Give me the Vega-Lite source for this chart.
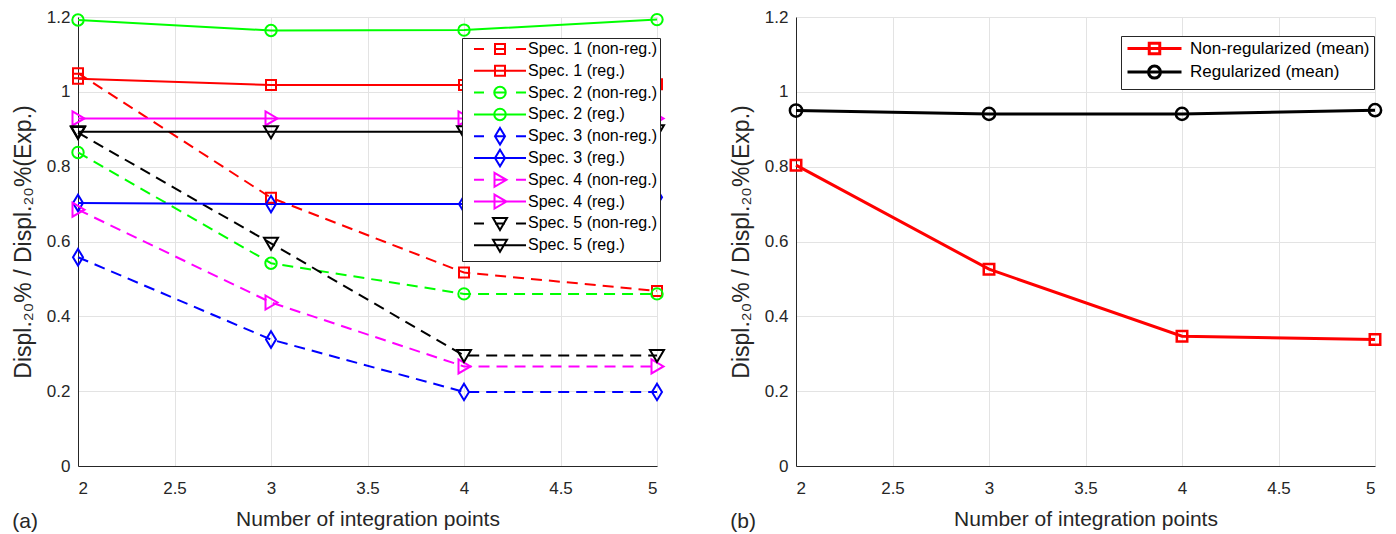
{
  "$schema": "https://vega.github.io/schema/vega-lite/v6.json",
  "background": "white",
  "padding": {"left": 12, "top": 8, "right": 5, "bottom": 0},
  "spacing": 62,
  "resolve": {"scale": {"color": "independent", "shape": "independent"}, "legend": {"color": "independent", "shape": "independent"}},
  "config": {
    "view": {"stroke": null},
    "font": "Liberation Sans",
    "axis": {
      "domainColor": "#262626", "domainWidth": 1,
      "gridColor": "#e3e3e3", "gridWidth": 1,
      "labelColor": "#262626", "labelFont": "Liberation Sans", "labelFontSize": 17,
      "titleColor": "#262626", "titleFont": "Liberation Sans", "titleFontSize": 21, "titleFontWeight": "normal",
      "ticks": false
    },
    "axisX": {"labelPadding": 14, "titlePadding": 12},
    "axisY": {"labelPadding": 8, "titlePadding": 11, "titleFontSize": 23}
  },
  "datasets": {
    "specs": [
      {"series": "Spec. 1 (non-reg.)", "points": 2, "ratio": 1.05},
      {"series": "Spec. 1 (non-reg.)", "points": 3, "ratio": 0.717},
      {"series": "Spec. 1 (non-reg.)", "points": 4, "ratio": 0.517},
      {"series": "Spec. 1 (non-reg.)", "points": 5, "ratio": 0.468},
      {"series": "Spec. 1 (reg.)", "points": 2, "ratio": 1.035},
      {"series": "Spec. 1 (reg.)", "points": 3, "ratio": 1.018},
      {"series": "Spec. 1 (reg.)", "points": 4, "ratio": 1.018},
      {"series": "Spec. 1 (reg.)", "points": 5, "ratio": 1.02},
      {"series": "Spec. 2 (non-reg.)", "points": 2, "ratio": 0.838},
      {"series": "Spec. 2 (non-reg.)", "points": 3, "ratio": 0.542},
      {"series": "Spec. 2 (non-reg.)", "points": 4, "ratio": 0.46},
      {"series": "Spec. 2 (non-reg.)", "points": 5, "ratio": 0.46},
      {"series": "Spec. 2 (reg.)", "points": 2, "ratio": 1.192},
      {"series": "Spec. 2 (reg.)", "points": 3, "ratio": 1.164},
      {"series": "Spec. 2 (reg.)", "points": 4, "ratio": 1.165},
      {"series": "Spec. 2 (reg.)", "points": 5, "ratio": 1.193},
      {"series": "Spec. 3 (non-reg.)", "points": 2, "ratio": 0.558},
      {"series": "Spec. 3 (non-reg.)", "points": 3, "ratio": 0.338},
      {"series": "Spec. 3 (non-reg.)", "points": 4, "ratio": 0.198},
      {"series": "Spec. 3 (non-reg.)", "points": 5, "ratio": 0.198},
      {"series": "Spec. 3 (reg.)", "points": 2, "ratio": 0.703},
      {"series": "Spec. 3 (reg.)", "points": 3, "ratio": 0.7},
      {"series": "Spec. 3 (reg.)", "points": 4, "ratio": 0.7},
      {"series": "Spec. 3 (reg.)", "points": 5, "ratio": 0.718},
      {"series": "Spec. 4 (non-reg.)", "points": 2, "ratio": 0.685},
      {"series": "Spec. 4 (non-reg.)", "points": 3, "ratio": 0.437},
      {"series": "Spec. 4 (non-reg.)", "points": 4, "ratio": 0.266},
      {"series": "Spec. 4 (non-reg.)", "points": 5, "ratio": 0.266},
      {"series": "Spec. 4 (reg.)", "points": 2, "ratio": 0.929},
      {"series": "Spec. 4 (reg.)", "points": 3, "ratio": 0.929},
      {"series": "Spec. 4 (reg.)", "points": 4, "ratio": 0.929},
      {"series": "Spec. 4 (reg.)", "points": 5, "ratio": 0.929},
      {"series": "Spec. 5 (non-reg.)", "points": 2, "ratio": 0.891},
      {"series": "Spec. 5 (non-reg.)", "points": 3, "ratio": 0.595},
      {"series": "Spec. 5 (non-reg.)", "points": 4, "ratio": 0.295},
      {"series": "Spec. 5 (non-reg.)", "points": 5, "ratio": 0.295},
      {"series": "Spec. 5 (reg.)", "points": 2, "ratio": 0.893},
      {"series": "Spec. 5 (reg.)", "points": 3, "ratio": 0.893},
      {"series": "Spec. 5 (reg.)", "points": 4, "ratio": 0.893},
      {"series": "Spec. 5 (reg.)", "points": 5, "ratio": 0.896}
    ],
    "means": [
      {"series": "Non-regularized (mean)", "points": 2, "ratio": 0.804},
      {"series": "Non-regularized (mean)", "points": 3, "ratio": 0.526},
      {"series": "Non-regularized (mean)", "points": 4, "ratio": 0.347},
      {"series": "Non-regularized (mean)", "points": 5, "ratio": 0.338},
      {"series": "Regularized (mean)", "points": 2, "ratio": 0.95},
      {"series": "Regularized (mean)", "points": 3, "ratio": 0.941},
      {"series": "Regularized (mean)", "points": 4, "ratio": 0.941},
      {"series": "Regularized (mean)", "points": 5, "ratio": 0.951}
    ]
  },
  "hconcat": [
    {
      "width": 579,
      "height": 449,
      "title": {"text": "(a)", "orient": "bottom", "anchor": "start", "frame": "bounds", "offset": -18, "fontSize": 21, "fontWeight": "normal", "font": "Liberation Sans", "color": "#262626"},
      "data": {"name": "specs"},
      "encoding": {
        "x": {"field": "points", "type": "quantitative", "scale": {"domain": [2, 5], "nice": false, "zero": false},
              "axis": {"title": "Number of integration points", "values": [2, 2.5, 3, 3.5, 4, 4.5, 5], "format": "~g"}},
        "y": {"field": "ratio", "type": "quantitative", "scale": {"domain": [0, 1.2], "nice": false},
              "axis": {"title": "Displ.₂₀% / Displ.₂₀%(Exp.)", "values": [0, 0.2, 0.4, 0.6, 0.8, 1, 1.2], "format": "~g"}},
        "color": {"field": "series", "type": "nominal",
          "scale": {"domain": ["Spec. 1 (non-reg.)", "Spec. 1 (reg.)", "Spec. 2 (non-reg.)", "Spec. 2 (reg.)", "Spec. 3 (non-reg.)", "Spec. 3 (reg.)", "Spec. 4 (non-reg.)", "Spec. 4 (reg.)", "Spec. 5 (non-reg.)", "Spec. 5 (reg.)"],
                    "range": ["#ff0000", "#ff0000", "#00ff00", "#00ff00", "#0000ff", "#0000ff", "#ff00ff", "#ff00ff", "#000000", "#000000"]},
          "legend": {"title": null, "orient": "none", "legendX": 384, "legendY": 21, "symbolOffset": 27, "labelOffset": 20, "rowPadding": -4.2, "padding": 3, "strokeColor": "#262626", "fillColor": "white", "labelFontSize": 16, "labelFont": "Liberation Sans", "labelColor": "#000000", "symbolSize": 100, "symbolStrokeWidth": 2, "labelLimit": 300}}
      },
      "layer": [
        {
          "transform": [{"filter": "indexof(datum.series, 'non-reg') >= 0"}],
          "mark": {"type": "line", "strokeWidth": 2, "strokeDash": [11, 7]}
        },
        {
          "transform": [{"filter": "indexof(datum.series, 'non-reg') < 0"}],
          "mark": {"type": "line", "strokeWidth": 2}
        },
        {
          "transform": [{"filter": "indexof(datum.series, 'Spec. 1 ') == 0"}],
          "mark": {"type": "point", "shape": "square", "size": 100, "filled": false, "strokeWidth": 2, "opacity": 1}
        },
        {
          "transform": [{"filter": "indexof(datum.series, 'Spec. 2 ') == 0"}],
          "mark": {"type": "point", "shape": "circle", "size": 130, "filled": false, "strokeWidth": 2, "opacity": 1}
        },
        {
          "transform": [{"filter": "indexof(datum.series, 'Spec. 3 ') == 0"}],
          "mark": {"type": "point", "shape": "M0,-1.65L1,0L0,1.65L-1,0Z", "size": 100, "filled": false, "strokeWidth": 2, "opacity": 1}
        },
        {
          "transform": [{"filter": "indexof(datum.series, 'Spec. 4 ') == 0"}],
          "mark": {"type": "point", "shape": "M-1.1,-1.4L1.3,0L-1.1,1.4Z", "size": 100, "filled": false, "strokeWidth": 2, "opacity": 1}
        },
        {
          "transform": [{"filter": "indexof(datum.series, 'Spec. 5 ') == 0"}],
          "mark": {"type": "point", "shape": "M-1.4,-1.1L1.4,-1.1L0,1.3Z", "size": 100, "filled": false, "strokeWidth": 2, "opacity": 1}
        },
        {
          "transform": [{"filter": "false"}],
          "mark": {"type": "point", "size": 100, "filled": false, "strokeWidth": 2, "opacity": 1},
          "encoding": {
            "shape": {"field": "series", "type": "nominal",
              "scale": {"domain": ["Spec. 1 (non-reg.)", "Spec. 1 (reg.)", "Spec. 2 (non-reg.)", "Spec. 2 (reg.)", "Spec. 3 (non-reg.)", "Spec. 3 (reg.)", "Spec. 4 (non-reg.)", "Spec. 4 (reg.)", "Spec. 5 (non-reg.)", "Spec. 5 (reg.)"],
                        "range": [
                          "M0,-1.75M0,1.75M-5.2,0H-3.2M-1,0H1M3.2,0H5.2M-1,-1H1V1H-1Z",
                          "M0,-1.75M0,1.75M-5.2,0H5.2M-1,-1H1V1H-1Z",
                          "M0,-1.75M0,1.75M-5.2,0H-3.2M-1,0H1M3.2,0H5.2M-1.15,0A1.15,1.15,0,1,0,1.15,0A1.15,1.15,0,1,0,-1.15,0Z",
                          "M0,-1.75M0,1.75M-5.2,0H5.2M-1.15,0A1.15,1.15,0,1,0,1.15,0A1.15,1.15,0,1,0,-1.15,0Z",
                          "M0,-1.75M0,1.75M-5.2,0H-3.2M-1,0H1M3.2,0H5.2M0,-1.65L1,0L0,1.65L-1,0Z",
                          "M0,-1.75M0,1.75M-5.2,0H5.2M0,-1.65L1,0L0,1.65L-1,0Z",
                          "M0,-1.75M0,1.75M-5.2,0H-3.2M-1,0H1M3.2,0H5.2M-1.1,-1.4L1.3,0L-1.1,1.4Z",
                          "M0,-1.75M0,1.75M-5.2,0H5.2M-1.1,-1.4L1.3,0L-1.1,1.4Z",
                          "M0,-1.75M0,1.75M-5.2,0H-3.2M-1,0H1M3.2,0H5.2M-1.4,-1.1L1.4,-1.1L0,1.3Z",
                          "M0,-1.75M0,1.75M-5.2,0H5.2M-1.4,-1.1L1.4,-1.1L0,1.3Z"
                        ]},
              "legend": {"title": null, "orient": "none", "legendX": 384, "legendY": 21, "symbolOffset": 27, "labelOffset": 20, "rowPadding": -4.2, "padding": 3, "strokeColor": "#262626", "fillColor": "white", "labelFontSize": 16, "labelFont": "Liberation Sans", "labelColor": "#000000", "symbolSize": 100, "symbolStrokeWidth": 2, "labelLimit": 300}}
          }
        }
      ]
    },
    {
      "width": 579,
      "height": 449,
      "title": {"text": "(b)", "orient": "bottom", "anchor": "start", "frame": "bounds", "offset": -18, "fontSize": 21, "fontWeight": "normal", "font": "Liberation Sans", "color": "#262626"},
      "data": {"name": "means"},
      "encoding": {
        "x": {"field": "points", "type": "quantitative", "scale": {"domain": [2, 5], "nice": false, "zero": false},
              "axis": {"title": "Number of integration points", "values": [2, 2.5, 3, 3.5, 4, 4.5, 5], "format": "~g"}},
        "y": {"field": "ratio", "type": "quantitative", "scale": {"domain": [0, 1.2], "nice": false},
              "axis": {"title": "Displ.₂₀% / Displ.₂₀%(Exp.)", "values": [0, 0.2, 0.4, 0.6, 0.8, 1, 1.2], "format": "~g"}},
        "color": {"field": "series", "type": "nominal",
          "scale": {"domain": ["Non-regularized (mean)", "Regularized (mean)"], "range": ["#ff0000", "#000000"]},
          "legend": {"title": null, "orient": "none", "legendX": 325, "legendY": 19, "symbolOffset": 21, "labelOffset": 27, "rowPadding": -1.4, "padding": 4, "strokeColor": "#262626", "fillColor": "white", "labelFontSize": 17, "labelFont": "Liberation Sans", "labelColor": "#000000", "symbolSize": 100, "symbolStrokeWidth": 3, "labelLimit": 300}}
      },
      "layer": [
        {
          "mark": {"type": "line", "strokeWidth": 3}
        },
        {
          "transform": [{"filter": "datum.series == 'Non-regularized (mean)'"}],
          "mark": {"type": "point", "shape": "square", "size": 110, "filled": false, "strokeWidth": 2.5, "opacity": 1}
        },
        {
          "transform": [{"filter": "datum.series == 'Regularized (mean)'"}],
          "mark": {"type": "point", "shape": "circle", "size": 150, "filled": false, "strokeWidth": 2.5, "opacity": 1}
        },
        {
          "transform": [{"filter": "false"}],
          "mark": {"type": "point", "size": 100, "filled": false, "strokeWidth": 3, "opacity": 1},
          "encoding": {
            "shape": {"field": "series", "type": "nominal",
              "scale": {"domain": ["Non-regularized (mean)", "Regularized (mean)"],
                        "range": [
                          "M0,-1.2M0,1.2M-5.4,0H5.4M-1.05,-1.05H1.05V1.05H-1.05Z",
                          "M0,-1.2M0,1.2M-5.4,0H5.4M-1.2,0A1.2,1.2,0,1,0,1.2,0A1.2,1.2,0,1,0,-1.2,0Z"
                        ]},
              "legend": {"title": null, "orient": "none", "legendX": 325, "legendY": 19, "symbolOffset": 21, "labelOffset": 27, "rowPadding": -1.4, "padding": 4, "strokeColor": "#262626", "fillColor": "white", "labelFontSize": 17, "labelFont": "Liberation Sans", "labelColor": "#000000", "symbolSize": 100, "symbolStrokeWidth": 3, "labelLimit": 300}}
          }
        }
      ]
    }
  ]
}
